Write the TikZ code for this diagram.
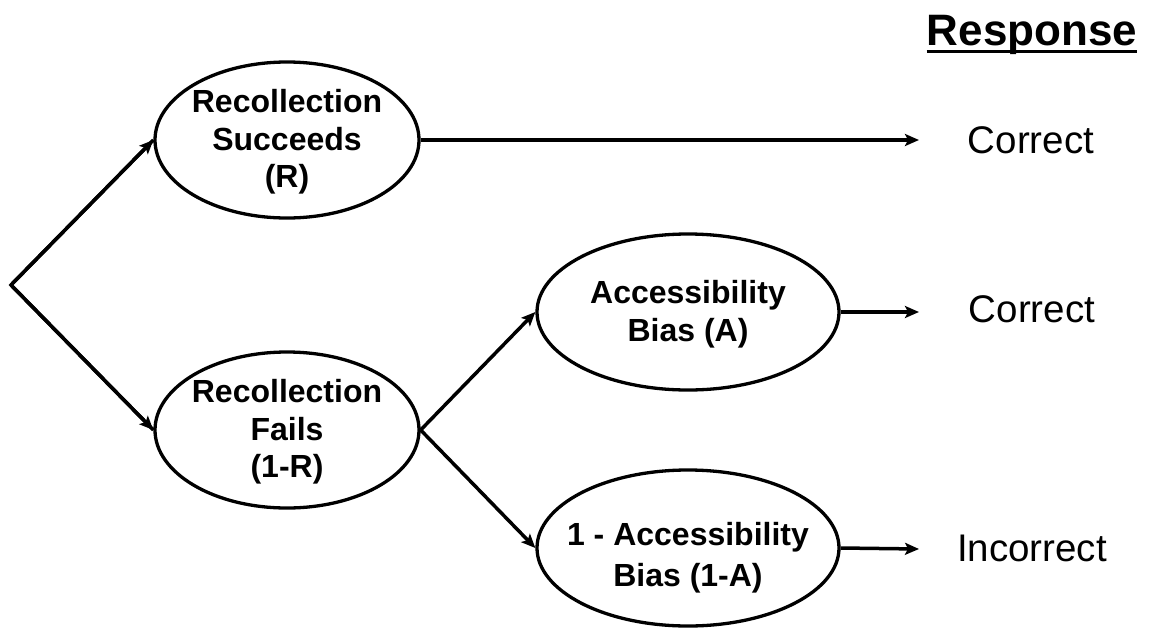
\documentclass[tikz,border=0pt]{standalone}
\usepackage{fontspec}
\setmainfont{Liberation Sans}
\usetikzlibrary{shapes.geometric,arrows.meta}
\newcommand{\ovtext}[2]{\makebox[0pt]{\smash{\raisebox{#1}{\begin{tabular}{@{}c@{}}#2\end{tabular}}}}}
\begin{document}
\begin{tikzpicture}[x=1pt,y=-1pt,
  oval/.style={draw,line width=3.3pt,ellipse,inner sep=0pt,
    font=\fontsize{32}{37.5}\selectfont\bfseries},
  arr/.style={line width=3.5pt,-{Stealth[length=14pt,width=12pt,inset=3pt]}},
  resp/.style={inner sep=0pt,font=\fontsize{38.5}{44}\selectfont}]
\useasboundingbox (0,0) rectangle (1151,632);
\coordinate (start) at (11,285);
\node[oval,minimum width=264pt,minimum height=156pt] (rs) at (287,140) {\ovtext{-9pt}{Recollection\\Succeeds\\(R)}};
\node[oval,minimum width=264pt,minimum height=156pt] (rf) at (287,430) {\ovtext{-9pt}{Recollection\\Fails\\(1-R)}};
\node[oval,minimum width=302pt,minimum height=156pt] (ab) at (688,312) {\ovtext{-9pt}{Accessibility\\Bias (A)}};
\node[oval,minimum width=302pt,minimum height=156pt,
  font=\fontsize{32}{41}\selectfont\bfseries] (nab) at (688,548) {\ovtext{-16pt}{1 - Accessibility\\Bias (1-A)}};
\coordinate (t1) at (919,140);
\coordinate (t2) at (919,312);
\coordinate (t3) at (919,549);
\node[resp] (c1) at (1031,140) {Correct};
\node[resp] (c2) at (1032,309) {Correct};
\node[resp] (c3) at (1032,548) {Incorrect};
\node[inner sep=0pt,font=\fontsize{44}{50}\selectfont\bfseries] (rh) at (1032,35) {Response};
\draw[line width=3.3pt] ([yshift=-6pt]rh.base west) -- ([yshift=-6pt]rh.base east);
\draw[line width=3.5pt,line join=miter] (rs.west) -- (start) -- (rf.west);
\draw[arr] (start) -- (rs.west);
\draw[arr] (start) -- (rf.west);
\draw[arr] (rs.east) -- (t1);
\draw[arr] (rf.east) -- (ab.west);
\draw[arr] (rf.east) -- (nab.west);
\draw[arr] (ab.east) -- (t2);
\draw[arr] (nab.east) -- (t3);
\end{tikzpicture}
\end{document}
